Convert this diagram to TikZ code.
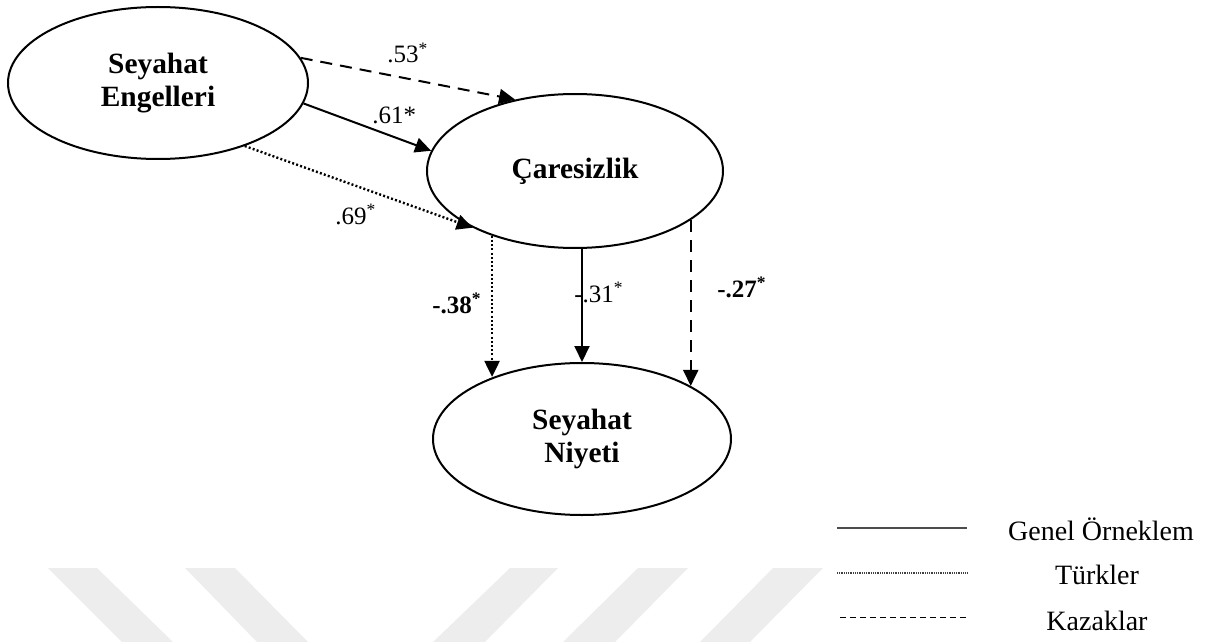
\documentclass[tikz,border=0pt]{standalone}
\usepackage{fontspec}
\setmainfont{Liberation Serif}
\usetikzlibrary{arrows.meta,shapes.geometric}
\begin{document}
\begin{tikzpicture}[x=0.5pt,y=-0.5pt,
  lat/.style={draw,ellipse,line width=1pt,inner sep=0pt,align=center,
    font=\fontsize{14.7}{16.5}\selectfont\bfseries},
  lbl/.style={anchor=base west,inner sep=0pt,font=\fontsize{12.5}{13}\selectfont},
  blbl/.style={lbl,font=\fontsize{12.5}{13}\selectfont\bfseries},
  leg/.style={anchor=base,inner sep=0pt,font=\fontsize{14}{16}\selectfont},
  conn/.style={line width=1pt,-{Triangle[length=8pt,width=7.5pt]}},
  dsh/.style={dash pattern=on 6pt off 4pt},
  dtt/.style={line width=1.2pt,dash pattern=on 1pt off 1.1pt},
  wm/.style={fill=black!7,draw=none}]
\useasboundingbox (0,0) rectangle (1216,642);
% watermark
\fill[wm] (48,568) -- (97,568) -- (173,642) -- (122,642) -- cycle;
\fill[wm] (185,568) -- (235,568) -- (308,642) -- (257,642) -- cycle;
\fill[wm] (510,568) -- (558,568) -- (485,642) -- (433,642) -- cycle;
\fill[wm] (638,568) -- (688,568) -- (615,642) -- (563,642) -- cycle;
\fill[wm] (773,568) -- (823,568) -- (750,642) -- (700,642) -- cycle;
% latent variables
\node[lat,minimum width=150pt,minimum height=76pt] (e) at (158,83) {Seyahat\\Engelleri};
\node[lat,minimum width=148pt,minimum height=77pt] (c) at (575,171) {Çaresizlik};
\node[lat,minimum width=149pt,minimum height=76pt] (n) at (582,439) {Seyahat\\Niyeti};
% paths
\draw[conn,dsh] (e.10.2) -- (c.130.5);
\draw[conn] (e.-8.8) -- (c.172);
\draw[conn,dtt] (e.-36.3) -- (c.209.3);
\draw[conn,dtt] (c.218) -- (c.218 |- n.145.6);
\draw[conn] (c.south -| n.north) -- (n.north);
\draw[conn,dsh] (c.-23.3) -- (c.-23.3 |- n.26.3);
% labels
\node[lbl] (l53) at (387,63) {.53\textsuperscript{*}};
\node[lbl] (l61) at (372,124) {.61*};
\node[lbl] (l69) at (335,224) {.69\textsuperscript{*}};
\node[blbl] (l38) at (432,313) {-.38\textsuperscript{*}};
\node[lbl] (l31) at (574,302) {-.31\textsuperscript{*}};
\node[blbl] (l27) at (717,297) {-.27\textsuperscript{*}};
% legend
\coordinate (a1) at (837,528); \coordinate (b1) at (967,528);
\coordinate (a2) at (837,573); \coordinate (b2) at (967,573);
\coordinate (a3) at (840,617); \coordinate (b3) at (967,617);
\draw[black!70,line width=0.9pt] (a1) -- (b1);
\draw[black!75,line width=0.6pt,dash pattern=on 0.5pt off 0.4pt] (a2) -- (b2);
\draw[black,line width=0.5pt,dash pattern=on 3pt off 2pt] (a3) -- (b3);
\node[leg] (t1) at (1101,540) {Genel Örneklem};
\node[leg] (t2) at (1097,584) {Türkler};
\node[leg] (t3) at (1097,630) {Kazaklar};
\end{tikzpicture}
\end{document}
